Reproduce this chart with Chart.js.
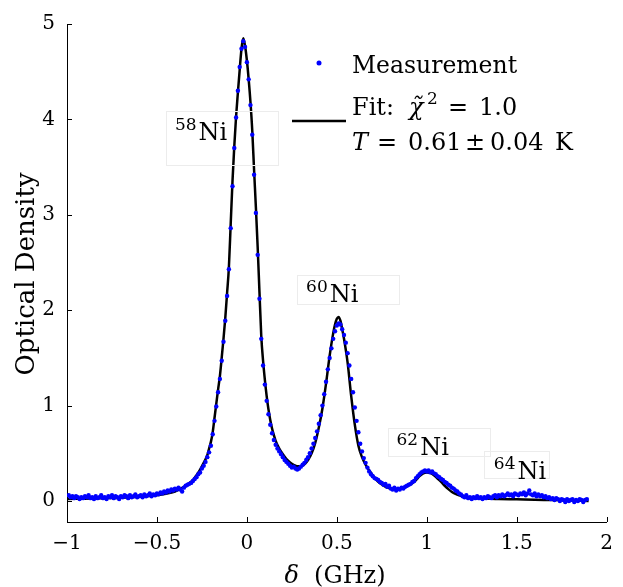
<!DOCTYPE html>
<html>
<head>
<meta charset="utf-8">
<script src="https://cdn.jsdelivr.net/npm/chart.js@4.4.1/dist/chart.umd.min.js"></script>
<style>
  html, body { margin: 0; padding: 0; background: #fff; }
  canvas { display: block; }
</style>
</head>
<body>
<canvas id="odChart" width="623" height="587"></canvas>
<script>
'use strict';

// data ---------------------------------------------------------------------
let xTicks = [-1, -0.5, 0, 0.5, 1, 1.5, 2];
let yTicks = [0, 1, 2, 3, 4, 5];

// measured optical density (blue dots)
let measX = [
  -0.99, -0.98, -0.97, -0.96, -0.95, -0.94, -0.93, -0.92, -0.91, -0.90,
  -0.89, -0.88, -0.87, -0.86, -0.85, -0.84, -0.83, -0.82, -0.81, -0.80,
  -0.79, -0.78, -0.77, -0.76, -0.75, -0.74, -0.73, -0.72, -0.71, -0.70,
  -0.69, -0.68, -0.67, -0.66, -0.65, -0.64, -0.63, -0.62, -0.61, -0.60,
  -0.59, -0.58, -0.57, -0.56, -0.55, -0.54, -0.53, -0.52, -0.51, -0.50,
  -0.49, -0.48, -0.47, -0.46, -0.45, -0.44, -0.43, -0.42, -0.41, -0.40,
  -0.39, -0.38, -0.37, -0.36, -0.35, -0.34, -0.33, -0.32, -0.31, -0.30,
  -0.29, -0.28, -0.27, -0.26, -0.25, -0.24, -0.23, -0.22, -0.21, -0.20,
  -0.19, -0.18, -0.17, -0.16, -0.15, -0.14, -0.13, -0.12, -0.11, -0.10,
  -0.09, -0.08, -0.07, -0.06, -0.05, -0.04, -0.03, -0.02, -0.01, 0.00,
  0.01, 0.02, 0.03, 0.04, 0.05, 0.06, 0.07, 0.08, 0.09, 0.10,
  0.11, 0.12, 0.13, 0.14, 0.15, 0.16, 0.17, 0.18, 0.19, 0.20,
  0.21, 0.22, 0.23, 0.24, 0.25, 0.26, 0.27, 0.28, 0.29, 0.30,
  0.31, 0.32, 0.33, 0.34, 0.35, 0.36, 0.37, 0.38, 0.39, 0.40,
  0.41, 0.42, 0.43, 0.44, 0.45, 0.46, 0.47, 0.48, 0.49, 0.50,
  0.51, 0.52, 0.53, 0.54, 0.55, 0.56, 0.57, 0.58, 0.59, 0.60,
  0.61, 0.62, 0.63, 0.64, 0.65, 0.66, 0.67, 0.68, 0.69, 0.70,
  0.71, 0.72, 0.73, 0.74, 0.75, 0.76, 0.77, 0.78, 0.79, 0.80,
  0.81, 0.82, 0.83, 0.84, 0.85, 0.86, 0.87, 0.88, 0.89, 0.90,
  0.91, 0.92, 0.93, 0.94, 0.95, 0.96, 0.97, 0.98, 0.99, 1.00,
  1.01, 1.02, 1.03, 1.04, 1.05, 1.06, 1.07, 1.08, 1.09, 1.10,
  1.11, 1.12, 1.13, 1.14, 1.15, 1.16, 1.17, 1.18, 1.19, 1.20,
  1.21, 1.22, 1.23, 1.24, 1.25, 1.26, 1.27, 1.28, 1.29, 1.30,
  1.31, 1.32, 1.33, 1.34, 1.35, 1.36, 1.37, 1.38, 1.39, 1.40,
  1.41, 1.42, 1.43, 1.44, 1.45, 1.46, 1.47, 1.48, 1.49, 1.50,
  1.51, 1.52, 1.53, 1.54, 1.55, 1.56, 1.57, 1.58, 1.59, 1.60,
  1.61, 1.62, 1.63, 1.64, 1.65, 1.66, 1.67, 1.68, 1.69, 1.70,
  1.71, 1.72, 1.73, 1.74, 1.75, 1.76, 1.77, 1.78, 1.79, 1.80,
  1.81, 1.82, 1.83, 1.84, 1.85, 1.86, 1.87, 1.88, 1.89
];
let measY = [
  0.06, 0.04, 0.05, 0.03, 0.05, 0.04, 0.02, 0.04, 0.03, 0.05,
  0.04, 0.06, 0.03, 0.04, 0.02, 0.05, 0.03, 0.04, 0.06, 0.03,
  0.04, 0.02, 0.05, 0.04, 0.06, 0.03, 0.05, 0.04, 0.02, 0.05,
  0.04, 0.06, 0.05, 0.03, 0.06, 0.04, 0.05, 0.07, 0.04, 0.05,
  0.06, 0.04, 0.07, 0.05, 0.06, 0.08, 0.05, 0.07, 0.06, 0.08,
  0.07, 0.09, 0.08, 0.10, 0.09, 0.11, 0.10, 0.12, 0.11, 0.13,
  0.12, 0.14, 0.12, 0.10, 0.14, 0.16, 0.17, 0.18, 0.19, 0.21,
  0.23, 0.25, 0.28, 0.30, 0.34, 0.37, 0.41, 0.46, 0.51, 0.58,
  0.70, 0.84, 0.99, 1.14, 1.28, 1.47, 1.67, 1.89, 2.15, 2.43,
  2.86, 3.30, 3.70, 4.02, 4.30, 4.55, 4.74, 4.82, 4.76, 4.60,
  4.42, 4.15, 3.84, 3.42, 3.02, 2.58, 2.12, 1.70, 1.42, 1.22,
  1.05, 0.91, 0.80, 0.71, 0.64, 0.59, 0.55, 0.52, 0.49, 0.46,
  0.43, 0.41, 0.39, 0.37, 0.35, 0.36, 0.34, 0.33, 0.34, 0.36,
  0.38, 0.40, 0.43, 0.46, 0.50, 0.55, 0.60, 0.66, 0.73, 0.81,
  0.90, 1.00, 1.12, 1.25, 1.38, 1.50, 1.60, 1.70, 1.78, 1.84,
  1.86, 1.85, 1.80, 1.74, 1.66, 1.55, 1.42, 1.28, 1.14, 0.98,
  0.84, 0.72, 0.60, 0.52, 0.45, 0.40, 0.35, 0.31, 0.28, 0.26,
  0.24, 0.23, 0.22, 0.20, 0.19, 0.17, 0.18, 0.15, 0.16, 0.13,
  0.12, 0.14, 0.11, 0.13, 0.12, 0.14, 0.13, 0.15, 0.16, 0.17,
  0.18, 0.20, 0.21, 0.24, 0.26, 0.28, 0.30, 0.31, 0.32, 0.31,
  0.32, 0.30, 0.31, 0.29, 0.28, 0.26, 0.25, 0.23, 0.22, 0.20,
  0.19, 0.17, 0.16, 0.14, 0.13, 0.11, 0.10, 0.08, 0.07, 0.05,
  0.04, 0.06, 0.03, 0.04, 0.02, 0.04, 0.03, 0.05, 0.03, 0.04,
  0.02, 0.04, 0.03, 0.05, 0.04, 0.03, 0.05, 0.06, 0.04, 0.06,
  0.05, 0.07, 0.05, 0.06, 0.08, 0.06, 0.07, 0.05, 0.08, 0.07,
  0.06, 0.08, 0.07, 0.09, 0.06, 0.08, 0.11, 0.07, 0.06, 0.08,
  0.05, 0.07, 0.05, 0.06, 0.04, 0.05, 0.03, 0.04, 0.02, 0.03,
  0.01, 0.03, 0.02, 0.00, 0.02, 0.01, -0.01, 0.02, 0.00, 0.01,
  0.02, -0.01, 0.01, 0.00, 0.02, 0.01, -0.01, 0.01, 0.02
];

// fit curve (black line)
let fitX = [
  -1.0, -0.9, -0.8, -0.7, -0.6, -0.5, -0.45, -0.4, -0.35, -0.32,
  -0.3, -0.28, -0.26, -0.24, -0.22, -0.21, -0.2, -0.19, -0.18, -0.17,
  -0.16, -0.15, -0.14, -0.13, -0.12, -0.11, -0.1, -0.09, -0.08, -0.07,
  -0.06, -0.05, -0.04, -0.03, -0.02, -0.01, 0, 0.01, 0.02, 0.03,
  0.04, 0.05, 0.06, 0.07, 0.08, 0.09, 0.1, 0.11, 0.12, 0.13,
  0.14, 0.15, 0.16, 0.18, 0.2, 0.22, 0.24, 0.26, 0.28, 0.3,
  0.32, 0.34, 0.36, 0.38, 0.4, 0.42, 0.44, 0.46, 0.48, 0.49,
  0.5, 0.51, 0.52, 0.53, 0.54, 0.56, 0.58, 0.6, 0.62, 0.64,
  0.66, 0.68, 0.7, 0.72, 0.74, 0.76, 0.78, 0.8, 0.83, 0.86,
  0.88, 0.9, 0.92, 0.94, 0.96, 0.98, 1.0, 1.02, 1.04, 1.06,
  1.08, 1.1, 1.12, 1.14, 1.16, 1.18, 1.2, 1.25, 1.3, 1.4,
  1.5, 1.6, 1.7, 1.8, 1.9
];
let fitY = [
  0.02, 0.025, 0.03, 0.035, 0.045, 0.06, 0.075, 0.10, 0.15, 0.19,
  0.22, 0.27, 0.33, 0.40, 0.48, 0.55, 0.62, 0.72, 0.87, 1.02,
  1.17, 1.31, 1.50, 1.70, 1.92, 2.18, 2.45, 2.90, 3.35, 3.72,
  4.03, 4.28, 4.52, 4.74, 4.85, 4.77, 4.62, 4.42, 4.18, 3.88,
  3.47, 3.08, 2.66, 2.19, 1.73, 1.47, 1.27, 1.10, 0.96, 0.85,
  0.76, 0.69, 0.63, 0.55, 0.49, 0.44, 0.405, 0.38, 0.365, 0.365,
  0.385, 0.43, 0.50, 0.61, 0.77, 0.97, 1.23, 1.52, 1.76, 1.85,
  1.91, 1.93, 1.89, 1.80, 1.70, 1.45, 1.10, 0.80, 0.58, 0.46,
  0.38, 0.32, 0.27, 0.22, 0.185, 0.16, 0.14, 0.13, 0.124, 0.13,
  0.145, 0.165, 0.185, 0.22, 0.26, 0.29, 0.30, 0.295, 0.27, 0.235,
  0.20, 0.16, 0.125, 0.095, 0.075, 0.06, 0.048, 0.035, 0.03, 0.022,
  0.018, 0.013, 0.01, 0.005, 0.0
];

// isotope labels: mass number, anchor (x, y) in data units
let isoLabels = [
  { mass: '58', x: -0.40, y: 3.78, box: [-9, -29, 112, 54] },
  { mass: '60', x: 0.329, y: 2.09, box: [-9, -27, 102, 29] },
  { mass: '62', x: 0.832, y: 0.48, box: [-9, -27, 102, 28] },
  { mass: '64', x: 1.373, y: 0.23, box: [-10, -28, 65, 27] }
];

// helpers ----------------------------------------------------------------------
const SERIF = '"DejaVu Serif", "Liberation Serif", serif';

function fmtTick(v) {
  return v < 0 ? '\u2212' + Math.abs(v) : String(v);
}

function toPoints(xs, ys) {
  let pts = [];
  for (let i = 0; i < xs.length; i++) {
    pts.push({ x: xs[i], y: ys[i] });
  }
  return pts;
}

// draws inward ticks, axis titles, isotope labels and the legend
const overlay = {
  id: 'overlay',
  afterDraw(chart) {
    const ctx = chart.ctx;
    const xs = chart.scales.x;
    const ys = chart.scales.y;
    const a = chart.chartArea;
    ctx.save();

    // inward tick marks
    ctx.strokeStyle = '#000';
    ctx.lineWidth = 1;
    ctx.beginPath();
    xTicks.forEach(v => {
      let px = Math.round(xs.getPixelForValue(v)) + 0.5;
      ctx.moveTo(px, a.bottom);
      ctx.lineTo(px, a.bottom - 5);
    });
    yTicks.forEach(v => {
      let py = Math.round(ys.getPixelForValue(v)) + 0.5;
      ctx.moveTo(a.left, py);
      ctx.lineTo(a.left + 5, py);
    });
    ctx.stroke();

    ctx.fillStyle = '#000';
    ctx.textBaseline = 'alphabetic';

    // y title
    ctx.save();
    ctx.translate(34, 274);
    ctx.rotate(-Math.PI / 2);
    ctx.textAlign = 'center';
    ctx.font = '26px ' + SERIF;
    ctx.fillText('Optical Density', 0, 0);
    ctx.restore();

    // x title: italic delta + (GHz)
    ctx.textAlign = 'left';
    ctx.font = 'italic 24px ' + SERIF;
    let dW = ctx.measureText('\u03b4').width;
    ctx.font = '24px ' + SERIF;
    let restW = ctx.measureText('  (GHz)').width;
    let tx = 335 - (dW + restW) / 2;
    ctx.font = 'italic 24px ' + SERIF;
    ctx.fillText('\u03b4', tx, 583);
    ctx.font = '24px ' + SERIF;
    ctx.fillText('  (GHz)', tx + dW, 583);

    // isotope labels
    isoLabels.forEach(l => {
      let px = xs.getPixelForValue(l.x);
      let py = ys.getPixelForValue(l.y);
      ctx.strokeStyle = '#ececec';
      ctx.lineWidth = 1;
      ctx.strokeRect(Math.round(px + l.box[0]) + 0.5, Math.round(py + l.box[1]) + 0.5, l.box[2], l.box[3]);
      ctx.font = '17px ' + SERIF;
      ctx.fillText(l.mass, px, py - 10);
      let mW = ctx.measureText(l.mass).width;
      ctx.font = '24px ' + SERIF;
      ctx.fillText('Ni', px + mW + 2, py);
    });

    // legend
    let lx = 352;
    ctx.fillStyle = '#0000ff';
    ctx.beginPath();
    ctx.arc(319, 63, 2.5, 0, Math.PI * 2);
    ctx.fill();
    ctx.fillStyle = '#000';
    ctx.font = '23.5px ' + SERIF;
    ctx.fillText('Measurement', lx, 73);

    ctx.strokeStyle = '#000';
    ctx.lineWidth = 2.5;
    ctx.beginPath();
    ctx.moveTo(292, 121);
    ctx.lineTo(346, 121);
    ctx.stroke();

    ctx.font = '24px ' + SERIF;
    ctx.fillText('Fit:', lx, 115);
    ctx.font = 'italic 24px ' + SERIF;
    ctx.fillText('\u03c7\u0303', lx + 57, 115);
    ctx.font = '17px ' + SERIF;
    ctx.fillText('2', lx + 75, 104);
    ctx.font = '24px ' + SERIF;
    ctx.fillText('=', lx + 96, 115);
    ctx.fillText('1.0', lx + 127, 115);

    ctx.font = 'italic 24px ' + SERIF;
    ctx.fillText('T', lx, 150);
    ctx.font = '24px ' + SERIF;
    ctx.fillText('=', lx + 25, 150);
    ctx.fillText('0.61', lx + 56, 150);
    ctx.fillText('\u00b1', lx + 113, 150);
    ctx.fillText('0.04', lx + 138, 150);
    ctx.fillText('K', lx + 203, 150);

    ctx.restore();
  }
};

let ctx = document.getElementById('odChart').getContext('2d');
let myChart = new Chart(ctx, {
  type: 'scatter',
  data: {
    datasets: [
      {
        label: 'Measurement',
        data: toPoints(measX, measY),
        showLine: false,
        pointRadius: 2.2,
        pointBorderWidth: 0,
        backgroundColor: '#0000ff',
        borderColor: '#0000ff'
      },
      {
        label: 'Fit',
        data: toPoints(fitX, fitY),
        showLine: true,
        pointRadius: 0,
        borderColor: '#000',
        borderWidth: 2.5,
        cubicInterpolationMode: 'monotone'
      }
    ]
  },
  options: {
    responsive: false,
    devicePixelRatio: 1,
    animation: false,
    layout: { padding: { top: 20, right: 15, left: 0, bottom: 0 } },
    plugins: {
      legend: { display: false },
      tooltip: { enabled: false }
    },
    scales: {
      x: {
        type: 'linear',
        min: -1,
        max: 2,
        afterBuildTicks: s => { s.ticks = xTicks.map(v => ({ value: v })); },
        afterFit: s => { s.height = 65; },
        grid: { display: true, drawOnChartArea: false, drawTicks: false },
        border: { display: true, color: '#000', width: 1 },
        ticks: {
          color: '#000',
          padding: 10,
          maxRotation: 0,
          autoSkip: false,
          font: { family: SERIF, size: 20 },
          callback: v => fmtTick(v)
        }
      },
      y: {
        type: 'linear',
        min: -0.22,
        max: 5,
        afterBuildTicks: s => { s.ticks = yTicks.map(v => ({ value: v })); },
        afterFit: s => { s.width = 67; },
        grid: { display: true, drawOnChartArea: false, drawTicks: false },
        border: { display: true, color: '#000', width: 1 },
        ticks: {
          color: '#000',
          padding: 12,
          autoSkip: false,
          font: { family: SERIF, size: 20 },
          callback: v => fmtTick(v)
        }
      }
    }
  },
  plugins: [overlay]
});
</script>
</body>
</html>
